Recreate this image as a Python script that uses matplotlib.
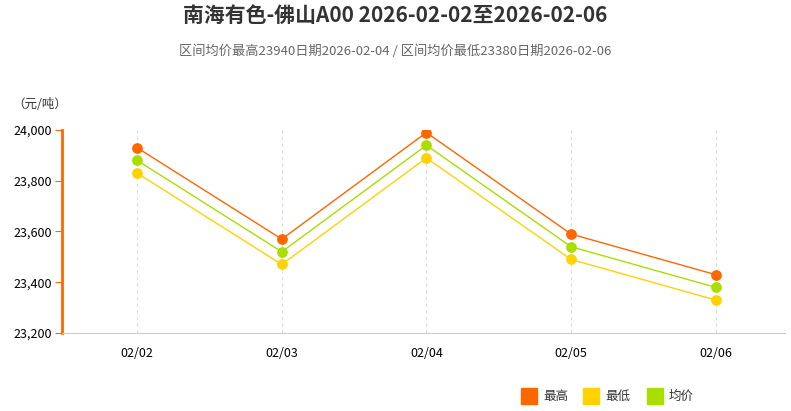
import matplotlib.pyplot as plt
from matplotlib.patches import Rectangle

plt.rcParams['font.family'] = ['Noto Sans CJK SC', 'DejaVu Sans']

dates = ["02/02", "02/03", "02/04", "02/05", "02/06"]
high = [23930, 23570, 23990, 23590, 23430]
low = [23830, 23470, 23890, 23490, 23330]
avg = [23880, 23520, 23940, 23540, 23380]
yticks = [23200, 23400, 23600, 23800, 24000]

c_high = "#ff6600"
c_low = "#ffd200"
c_avg = "#aadd00"

fig = plt.figure(figsize=(7.91, 4.11), dpi=100)
W, H = 791, 411
ax = fig.add_axes([62 / W, 1 - 333 / H, (785 - 62) / W, (333 - 130) / H])

x = range(len(dates))
for vals, c in [(high, c_high), (avg, c_avg), (low, c_low)]:
    ax.plot(x, vals, color=c, linewidth=1, zorder=3)
    ax.scatter(x, vals, color=c, s=45, zorder=4)

ax.set_xlim(-0.52, 4.48)
ax.set_ylim(23200, 24000)
ax.set_xticks(list(x))
ax.set_xticklabels(dates, fontsize=9)
ax.set_yticks(yticks)
ax.set_yticklabels([f"{v:,}" for v in yticks], fontsize=9)
ax.xaxis.grid(True, linestyle=(0, (3, 3)), color="#dddddd", linewidth=0.8)
for s in ["top", "right"]:
    ax.spines[s].set_visible(False)
ax.spines["left"].set_color(c_high)
ax.spines["left"].set_linewidth(2)
ax.spines["bottom"].set_color("#cccccc")
ax.tick_params(axis="y", length=5, color=c_high, pad=2)
ax.tick_params(axis="x", length=0, pad=10)

fig.text(0.5, 1 - 15 / H, "南海有色-佛山A00 2026-02-02至2026-02-06", ha="center", va="center",
         fontsize=15, fontweight="bold", color="#333333")
fig.text(0.5, 1 - 51 / H, "区间均价最高23940日期2026-02-04 / 区间均价最低23380日期2026-02-06",
         ha="center", va="center", fontsize=9.5, color="#666666")
fig.text(12 / W, 1 - 105 / H, "（元/吨）", ha="left", va="center", fontsize=9, color="#333333")

for lx, label, c in [(521, "最高", c_high), (583, "最低", c_low), (647, "均价", c_avg)]:
    fig.patches.append(Rectangle((lx / W, 1 - 404 / H), 16 / W, 16 / H, color=c,
                                 transform=fig.transFigure))
    fig.text((lx + 22) / W, 1 - 396 / H, label, ha="left", va="center", fontsize=9, color="#333333")

fig.savefig("out.png", dpi=100)
